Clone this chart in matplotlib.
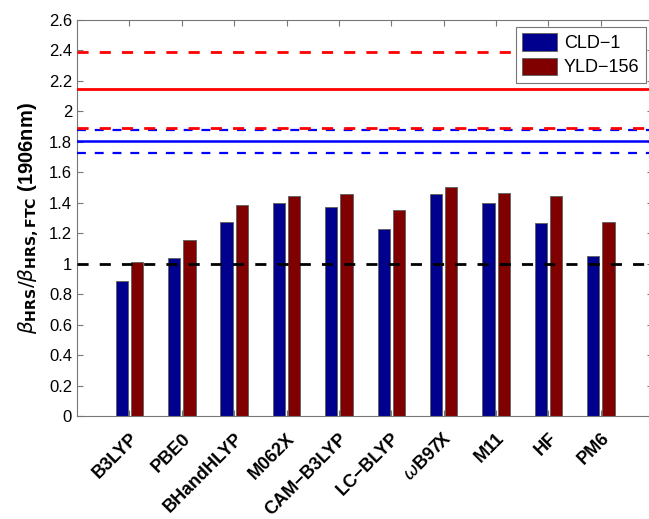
import numpy as np
import matplotlib.pyplot as plt

plt.rcParams['font.family'] = ['Liberation Sans', 'DejaVu Sans']

methods = ['B3LYP', 'PBE0', 'BHandHLYP', 'M062X', 'CAM\u2212B3LYP', 'LC\u2212BLYP',
           r'$\omega$B97X', 'M11', 'HF', 'PM6']
cld1 = [0.884, 1.035, 1.276, 1.397, 1.374, 1.226, 1.456, 1.397, 1.265, 1.052]
yld156 = [1.013, 1.156, 1.385, 1.444, 1.456, 1.355, 1.504, 1.464, 1.444, 1.276]

# reference lines (value, style)
red_lines = [(2.39, '--'), (2.147, '-'), (1.893, '--')]
blue_lines = [(1.878, '--'), (1.804, '-'), (1.727, '--')]
ref_one = 1.0

fig = plt.figure(figsize=(6.49, 5.19), dpi=100)
# axes runs slightly past the right edge, as in the cropped original
ax = fig.add_axes([0.1186, 0.1985, 0.888, 0.7630])

x = np.arange(1, len(methods) + 1)
w = 0.235
ax.bar(x - 0.145, cld1, w, color='#00008F', edgecolor='#666666', linewidth=0.7,
       label='CLD\u22121', zorder=2)
ax.bar(x + 0.145, yld156, w, color='#800000', edgecolor='#666666', linewidth=0.7,
       label='YLD\u2212156', zorder=2)

for v, ls in blue_lines:
    if ls == '--':
        ax.axhline(v, color='#0000ff', lw=1.6, ls='--', dashes=(4, 4), zorder=3)
    else:
        ax.axhline(v, color='#0000ff', lw=1.8, zorder=3)
for v, ls in red_lines:
    if ls == '--':
        ax.axhline(v, color='#ff0000', lw=2.0, ls='--', dashes=(4, 4), zorder=3)
    else:
        ax.axhline(v, color='#ff0000', lw=2.0, zorder=3)
ax.axhline(ref_one, color='black', ls='--', lw=2.0, dashes=(4, 4), zorder=3)

ax.set_xlim(0, 11)
ax.set_ylim(0, 2.6)
ax.set_yticks(np.arange(0, 2.61, 0.2))
ax.set_yticklabels(['0', '0.2', '0.4', '0.6', '0.8', '1', '1.2', '1.4', '1.6',
                    '1.8', '2', '2.2', '2.4', '2.6'], fontsize=12)
ax.set_xticks(x)
ax.set_xticklabels(methods, rotation=45, ha='right', rotation_mode='anchor',
                   fontsize=13, fontweight='bold')
ax.tick_params(direction='in', top=True, right=True, length=4, color='#777777')
ax.tick_params(axis='x', pad=10)
for s in ax.spines.values():
    s.set_color('#777777')

ax.set_ylabel(r'$\beta_{\mathbf{HRS}}/\beta_{\mathbf{HRS,FTC}}$ (1906nm)',
              fontsize=14.5, fontweight='bold', labelpad=6)

leg = ax.legend(loc='upper left', bbox_to_anchor=(0.762, 0.982), fontsize=13,
                fancybox=False, framealpha=1, edgecolor='#777777',
                handlelength=1.9, handleheight=1.1, handletextpad=0.4,
                borderaxespad=0, borderpad=0.35, labelspacing=0.3)
leg.get_frame().set_linewidth(0.8)

fig.savefig('out.png', dpi=100)
